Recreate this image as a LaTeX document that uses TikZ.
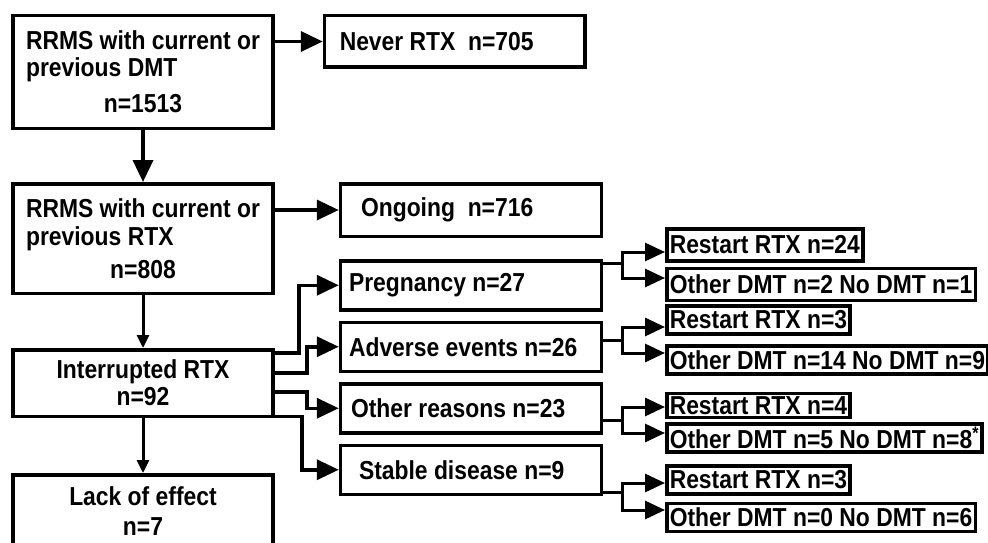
\documentclass[tikz,border=0pt]{standalone}
\usepackage{fontspec}
\setmainfont{Liberation Sans}[FakeStretch=0.88]
\usetikzlibrary{arrows.meta,positioning}

\begin{document}
\begin{tikzpicture}[
    x=1pt, y=-1pt,
    font=\fontsize{26}{27}\selectfont\bfseries,
    node distance=9pt,
    block/.style={draw, line width=3.5pt, minimum width=260pt, inner sep=0pt},
    reason/.style={block, minimum width=261pt, minimum height=49pt, text width=244pt, align=flush left},
    outcome/.style={draw, line width=3.5pt, anchor=west, minimum height=28pt, inner xsep=3pt, inner ysep=0pt},
    arrow/.style={line width=3.5pt, -{Triangle[length=22pt, width=20pt]}},
    small arrow/.style={line width=3pt, -{Triangle[length=13pt, width=12pt]}},
    branch arrow/.style={line width=3pt, -{Triangle[length=20pt, width=18pt]}},
]
  \useasboundingbox (0,0) rectangle (988,543);

  % left column
  \node[block, minimum height=112.5pt, align=center] (dmt) at (143,72)
    {\begin{tabular}[b]{@{}l@{}}RRMS with current or\\previous DMT\end{tabular}\\[9pt]n=1513};
  \node[block, minimum height=109.5pt, align=center, below=52pt of dmt] (rtx)
    {\begin{tabular}[b]{@{}l@{}}RRMS with current or\\[1pt]previous RTX\end{tabular}\\[6pt]n=808};
  \node[block, minimum height=66.5pt, align=center, below=53pt of rtx] (intr) {Interrupted RTX\\n=92};
  \node[block, minimum height=72pt, align=center, below=55pt of intr] (lack) {Lack of effect\\[3pt]n=7};

  % middle column
  \node[reason, minimum width=260.5pt, minimum height=51.5pt, right=48pt of dmt.north east, anchor=north west] (never)
    {\hspace*{7pt}Never RTX\ \ n=705};
  \node[reason, minimum height=52.5pt, right=64pt of rtx.north east, anchor=north west] (ongoing)
    {\hspace*{12pt}Ongoing\ \ n=716};
  \node[reason, below=21pt of ongoing] (preg) {Pregnancy n=27};
  \node[reason, below=of preg] (adv) {Adverse events n=26};
  \node[reason, below=of adv] (oth) {\hspace*{2pt}Other reasons n=23};
  \node[reason, below=of oth] (stab) {\hspace*{10pt}Stable disease n=9};

  % right column
  \node[outcome, minimum height=32pt] (ra) at (665,245) {Restart RTX n=24};
  \node[outcome, minimum height=32pt] (oa) at (665,284.5) {Other DMT n=2 No DMT n=1};
  \node[outcome] (rb) at (665,320) {Restart RTX n=3};
  \node[outcome] (ob) at (665,360) {Other DMT n=14 No DMT n=9};
  \node[outcome, minimum height=24pt] (rc) at (665,405.5) {Restart RTX n=4};
  \node[outcome] (oc) at (665,438) {Other DMT n=5 No DMT n=8\textsuperscript{*}};
  \node[outcome] (rd) at (665,480) {Restart RTX n=3};
  \node[outcome] (od) at (665,517.5) {Other DMT n=0 No DMT n=6};

  \draw[arrow] (dmt.east |- never.west) -- (never.west);
  \draw[arrow] (dmt) -- (rtx);
  \draw[arrow] (rtx.east |- ongoing.west) -- (ongoing.west);
  \draw[small arrow] (rtx) -- (intr);
  \draw[small arrow] (intr) -- (lack);

  \draw[arrow] ([yshift=-5pt]intr.north east) -| ([xshift=-40pt]preg.west) -- (preg.west);
  \draw[arrow] ([yshift=10pt]intr.east) -| ([xshift=-32pt]adv.west) -- (adv.west);
  \draw[arrow] ([yshift=-9pt]intr.east) -| ([xshift=-32pt]oth.west) -- (oth.west);
  \draw[arrow] ([yshift=1.5pt]intr.south east) -| ([xshift=-37pt]stab.west) -- (stab.west);

  % each reason splits in two
  \foreach \r/\s/\a/\sa/\b/\sb in {preg/22pt/ra/-7pt/oa/6.5pt, adv/6.5pt/rb/-7pt/ob/7pt,
      oth/-12pt/rc/-1.5pt/oc/5pt, stab/-23pt/rd/-3pt/od/7.5pt}{
    \draw[branch arrow] ([yshift=\s]\r.east) -- ++(19,0) |- ([yshift=\sa]\a.west);
    \draw[branch arrow] ([yshift=\s]\r.east) -- ++(19,0) |- ([yshift=\sb]\b.west);
  }
\end{tikzpicture}
\end{document}
